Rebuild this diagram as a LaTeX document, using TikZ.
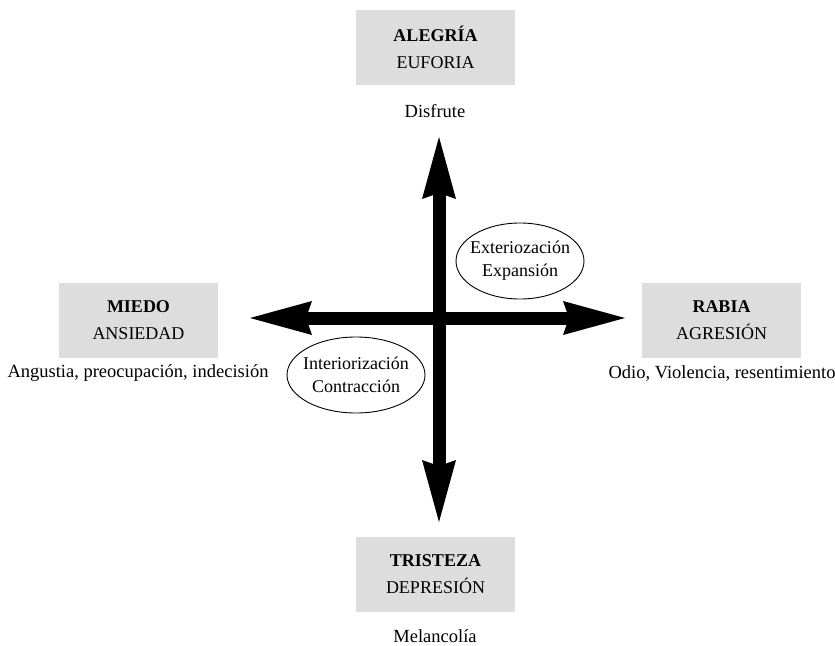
\documentclass[tikz,border=0pt]{standalone}
\usepackage{fontspec}
\setmainfont{Liberation Serif}
\usetikzlibrary{arrows.meta}
\definecolor{boxgray}{RGB}{221,221,222}

\begin{document}
\begin{tikzpicture}[x=1pt,y=-1pt,
	emo/.style={fill=boxgray, minimum width=159pt, minimum height=75pt, align=center, font=\fontsize{18}{27}\selectfont},
	note/.style={font=\fontsize{18.5}{22}\selectfont},
	phase/.style={inner sep=0pt, align=center, font=\fontsize{18}{23}\selectfont},
	bigarrow/.style={line width=13pt, arrows={Stealth[length=62pt,width=34pt,inset=6pt,line width=0pt]-Stealth[length=62pt,width=34pt,inset=6pt,line width=0pt]}}]
	\useasboundingbox (0,0) rectangle (835,645);

	\node[emo] (alegria) at (435.5, 47.5) {\textbf{ALEGRÍA}\\EUFORIA};
	\node[emo] (miedo)   at (138.5,320.5) {\textbf{MIEDO}\\ANSIEDAD};
	\node[emo] (rabia)   at (721.5,320.5) {\textbf{RABIA}\\AGRESIÓN};
	\node[emo] (tristeza) at (435.5,574.5) {\textbf{TRISTEZA}\\DEPRESIÓN};

	\node[note] (disfrute) at (435,111) {Disfrute};
	\node[note] (angustia) at (138,373) {Angustia, preocupación, indecisión};
	\node[note] (odio)     at (722,373) {Odio, Violencia, resentimiento};
	\node[note] (melanc)   at (435,636) {Melancolía};

	\coordinate (n) at (439,137);
	\coordinate (s) at (439,522);
	\coordinate (w) at (250,318);
	\coordinate (e) at (625,318);

	\draw[bigarrow] (w) -- (e);
	\draw[bigarrow] (n) -- (s);

	\node[phase] (exter) at (520,261) {Exteriozación\\Expansión};
	\node[phase] (inter) at (356,375) {Interiorización\\Contracción};
	\draw[line width=0.9pt] (exter.center) ellipse [x radius=64, y radius=38];
	\draw[line width=0.9pt] (inter.center) ellipse [x radius=69, y radius=38];
\end{tikzpicture}
\end{document}
